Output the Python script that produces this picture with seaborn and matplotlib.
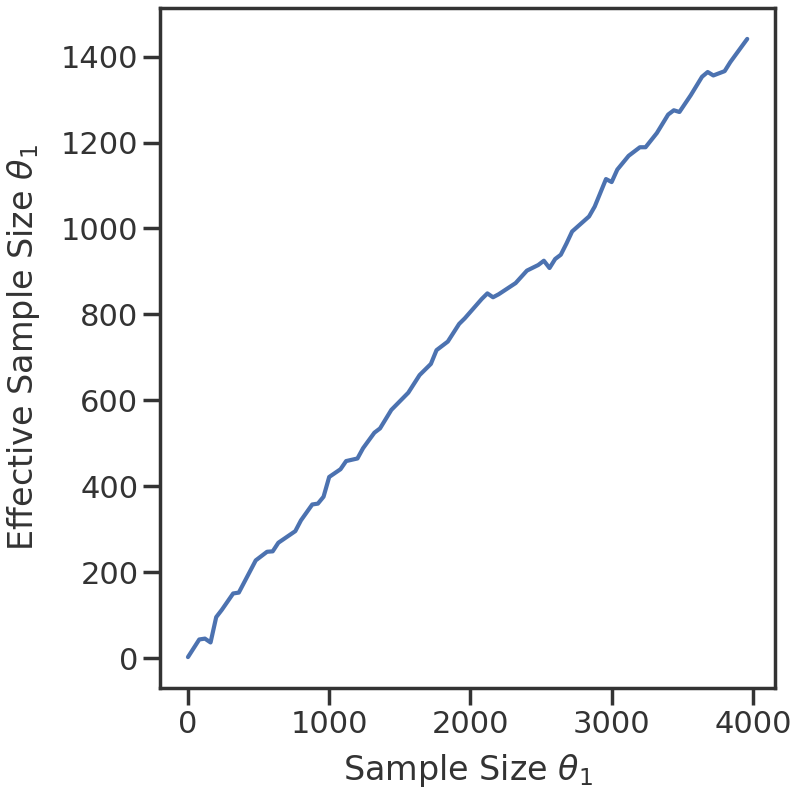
import pandas as pd
import matplotlib
matplotlib.use("Agg")
import matplotlib.pyplot as plt
import seaborn as sns

# sample size vs effective sample size
sample_size = [
    0, 80, 120, 160, 200, 240, 320, 360, 480, 560, 600, 640, 760, 800, 880,
    920, 960, 1000, 1080, 1120, 1200, 1240, 1320, 1360, 1440, 1560, 1640,
    1720, 1760, 1840, 1920, 1960, 2080, 2120, 2160, 2200, 2320, 2400, 2480,
    2520, 2560, 2600, 2640, 2680, 2720, 2840, 2880, 2960, 3000, 3040, 3120,
    3200, 3240, 3320, 3400, 3440, 3480, 3560, 3640, 3680, 3720, 3800, 3840,
    3880, 3960,
]
ess = [
    3, 44, 46, 37, 96, 113, 151, 153, 228, 248, 249, 269, 296, 321, 358,
    360, 376, 422, 440, 459, 465, 489, 525, 535, 578, 618, 659,
    685, 717, 737, 778, 791, 836, 849, 840, 847, 873, 902, 915,
    925, 908, 929, 939, 965, 993, 1028, 1051, 1115, 1108, 1137, 1169,
    1189, 1189, 1222, 1265, 1275, 1271, 1310, 1353, 1364, 1356, 1366, 1387,
    1405, 1441,
]

df = pd.DataFrame({"sample_size": sample_size, "ess": ess})

sns.set_theme(context="poster", style="ticks")
plt.rcParams.update({
    "text.color": ".2",
    "axes.labelcolor": ".2",
    "xtick.color": ".2",
    "ytick.color": ".2",
    "axes.edgecolor": ".2",
})

fig, ax = plt.subplots(figsize=(8, 8), dpi=100)
fig.subplots_adjust(left=0.2, right=0.969, top=0.99, bottom=0.14)

sns.lineplot(data=df, x="sample_size", y="ess", ax=ax)

ax.set_xlabel(r"Sample Size $\theta_1$", labelpad=10)
ax.set_ylabel(r"Effective Sample Size $\theta_1$", labelpad=14)
ax.set_xticks([0, 1000, 2000, 3000, 4000])
ax.set_yticks([0, 200, 400, 600, 800, 1000, 1200, 1400])

fig.savefig("out.png", dpi=100)
